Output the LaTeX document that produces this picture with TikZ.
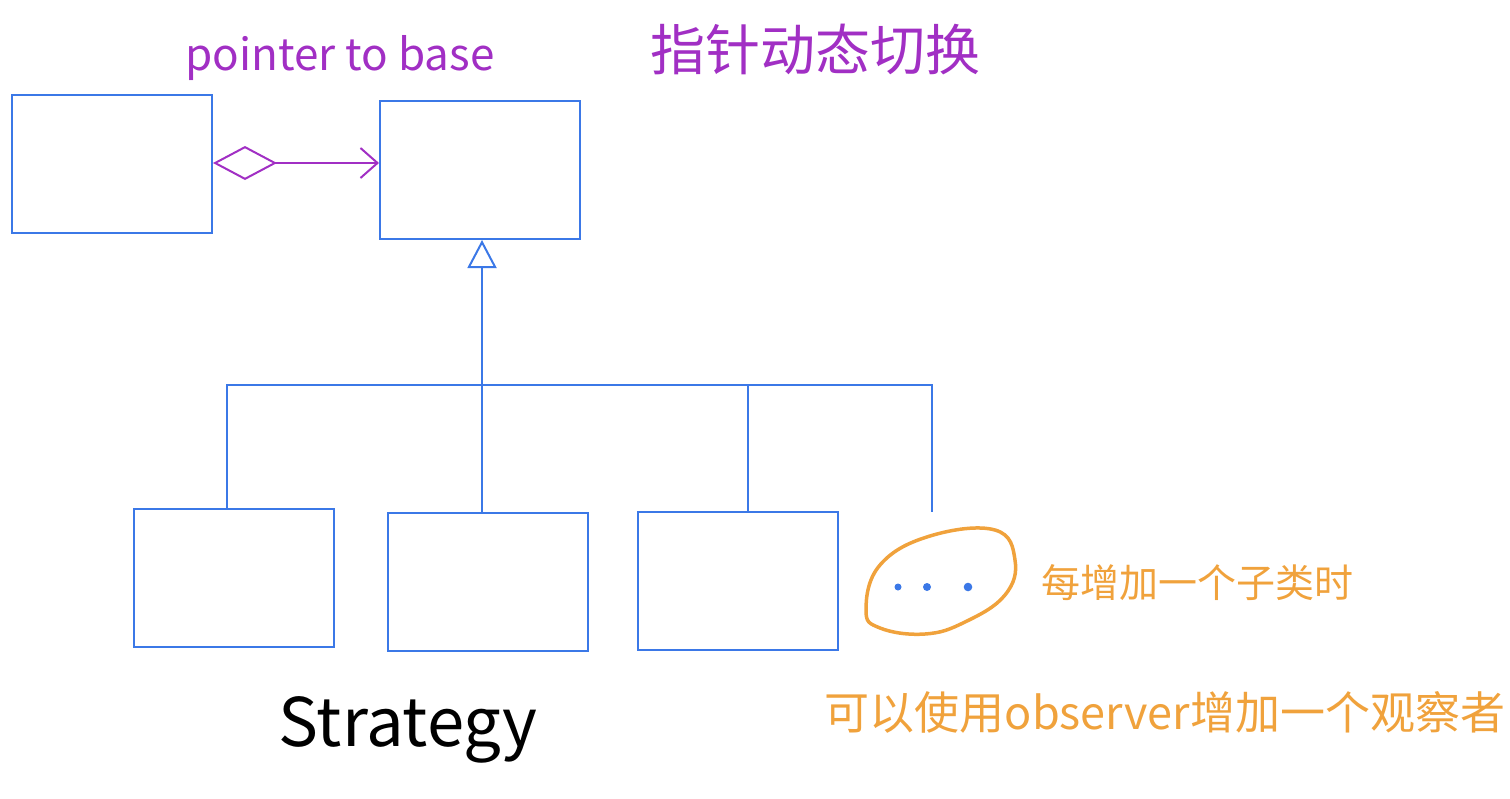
\documentclass[tikz,border=0pt]{standalone}
\usepackage{fontspec}
\setmainfont{Noto Sans CJK SC}
\usetikzlibrary{arrows.meta,positioning,calc}

\definecolor{umlblue}{HTML}{3B78E7}
\definecolor{notepurple}{HTML}{A12FC4}
\definecolor{noteorange}{HTML}{F0A23C}

\begin{document}
\begin{tikzpicture}[
    x=1pt, y=-1pt,
    cls/.style={draw=umlblue, line width=2pt, minimum width=200pt, minimum height=138pt, inner sep=0pt},
    link/.style={draw=umlblue, line width=2pt},
    note/.style={inner sep=0pt, font=\fontsize{#1}{#1}\selectfont},
    note/.default=40pt
]
\useasboundingbox (0,0) rectangle (1510,798);

% ---- context holds a pointer to the strategy base ----
\node[cls] (context) at (112,164) {};
\node[cls] (base) at (480,170) {};
\draw[notepurple, line width=2pt,
      {Diamond[open,length=64pt,width=34pt]}-{Straight Barb[length=17pt,width=30pt]}]
  (context.east |- 0,163) -- (base.west |- 0,163);

% ---- concrete strategies ----
\node[cls] (impl1) at (234,578) {};
\node[cls] (impl2) at (488,582) {};
\node[cls] (impl3) at (738,581) {};

% tree of the inheritance arrow
\coordinate (hub) at (482,385);
\coordinate (left) at (227,385);
\coordinate (right) at (932,385);
\coordinate (more) at (932,512);
\draw[link, -{Triangle[open,length=28pt,width=29pt]}] (hub) -- (hub |- base.south);
\draw[link] (impl1.north -| left) |- (right) -- (more);
\draw[link] (hub) -- (hub |- impl2.north);
\draw[link] (748,385) -- (748,0 |- impl3.north);

% ---- "..." more subclasses ----
\draw[noteorange, line width=3.5pt]
  plot[smooth cycle, tension=0.7] coordinates {(880,565) (930,536) (995,530) (1015,560) (1005,595)
    (965,622) (925,634) (880,628) (866,610)};
\foreach \dx/\r in {898/3.5, 927/4, 968/4.3}
  \fill[umlblue] (\dx,587) circle (\r pt);

% ---- notes ----
\node[note=44pt, text=notepurple] (ptrnote) at (340,58) {pointer to base};
\node[note=55pt, text=notepurple] (switchnote) at (815,50) {指针动态切换};
\node[note=67pt] (title) at (408,730) {Strategy};
\node[note=39pt, text=noteorange] (addnote) at (1197,583) {每增加一个子类时};
\node[note=45pt, text=noteorange] (obsnote) at (1165,712) {可以使用observer增加一个观察者};

\end{tikzpicture}
\end{document}
